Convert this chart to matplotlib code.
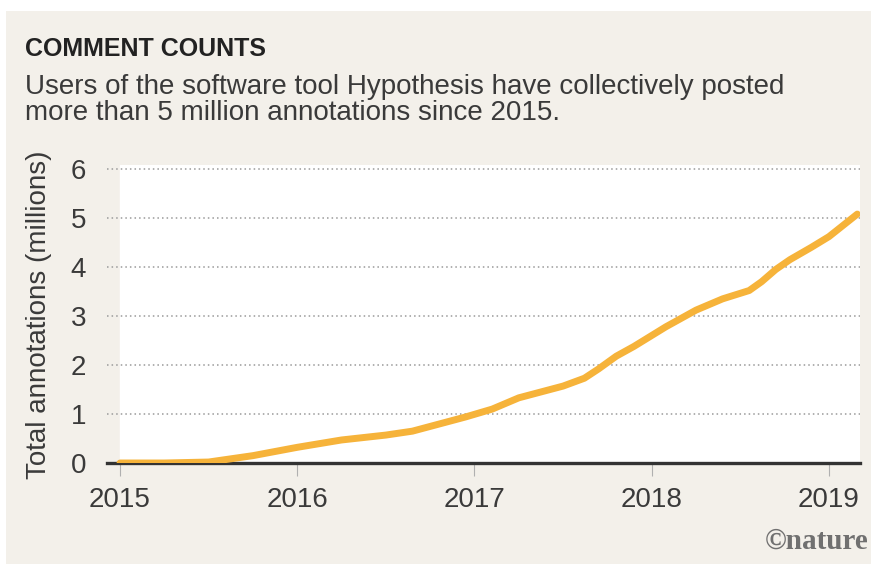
import numpy as np
import matplotlib.pyplot as plt
from matplotlib.patches import Rectangle

# cumulative annotations (millions), by decimal year
years = [2015.0, 2015.25, 2015.5, 2015.75, 2016.0, 2016.25, 2016.5, 2016.65,
         2016.95, 2017.1, 2017.25, 2017.5, 2017.62, 2017.7, 2017.8, 2017.9,
         2018.08, 2018.25, 2018.4, 2018.55, 2018.62, 2018.7, 2018.78, 2018.9,
         2019.0, 2019.16]
totals = [0.0, 0.0, 0.02, 0.15, 0.32, 0.47, 0.57, 0.65,
          0.94, 1.1, 1.33, 1.57, 1.73, 1.92, 2.18, 2.38,
          2.78, 3.12, 3.35, 3.52, 3.7, 3.95, 4.15, 4.4,
          4.62, 5.08]
year_ticks = [2015, 2016, 2017, 2018, 2019]
y_ticks = [0, 1, 2, 3, 4, 5, 6]

BG = "#f3f0ea"
ORANGE = "#f6b33a"
TXT = "#3a3a3a"
SANS = ["Liberation Sans", "DejaVu Sans"]

fig = plt.figure(figsize=(8.71, 5.64), dpi=100)
fig.patch.set_facecolor("white")
fig.add_artist(Rectangle((6 / 871, 0), 1, 1 - 11 / 564, transform=fig.transFigure,
                         facecolor=BG, edgecolor="none", zorder=0))

ax = fig.add_axes([107 / 871, 1 - 463 / 564, (860 - 107) / 871, (463 - 165) / 564])
ax.set_facecolor(BG)
x0 = 2015 - 13 / 177
x1 = 2019 + 31 / 177
ax.set_xlim(x0, x1)
ax.set_ylim(0, (463 - 165) / 49)
ax.axvspan(2015, x1, color="white", zorder=0)

for v in y_ticks[1:]:
    ax.axhline(v, color="#9a9a9a", lw=1.1, ls=(0, (1, 2)), zorder=1)
ax.axhline(0, color="#333333", lw=2.4, zorder=2, clip_on=False)

ax.plot(years, totals, color=ORANGE, lw=5, solid_capstyle="round",
        solid_joinstyle="round", zorder=3)

for s in ax.spines.values():
    s.set_visible(False)
ax.set_xticks(year_ticks)
ax.set_xticklabels([str(y) for y in year_ticks], family=SANS, fontsize=20, color=TXT)
ax.set_yticks(y_ticks)
ax.set_yticklabels([str(v) for v in y_ticks], family=SANS, fontsize=20, color=TXT)
ax.tick_params(axis="x", length=9, width=0.8, color="#b0b0b0", pad=8)
ax.tick_params(axis="y", length=0, pad=15)

fig.text(39 / 871, 1 - 315 / 564, "Total annotations (millions)", rotation=90,
         ha="center", va="center", family=SANS, fontsize=20, color=TXT)

fig.text(25 / 871, 1 - 49 / 564, "COMMENT COUNTS", family=SANS, fontweight="bold",
         fontsize=18, color="#222222", va="center")
fig.text(25 / 871, 1 - 100 / 564,
         "Users of the software tool Hypothesis have collectively posted\n"
         "more than 5 million annotations since 2015.",
         family=SANS, fontsize=20, color=TXT, va="center", linespacing=1.0)
fig.text(868 / 871, 1 - 541 / 564, "\u00a9nature", family=["Liberation Serif", "DejaVu Serif"],
         fontsize=21, fontweight="bold", color="#707070", ha="right", va="center")

fig.savefig("out.png", dpi=100, facecolor=fig.get_facecolor())
